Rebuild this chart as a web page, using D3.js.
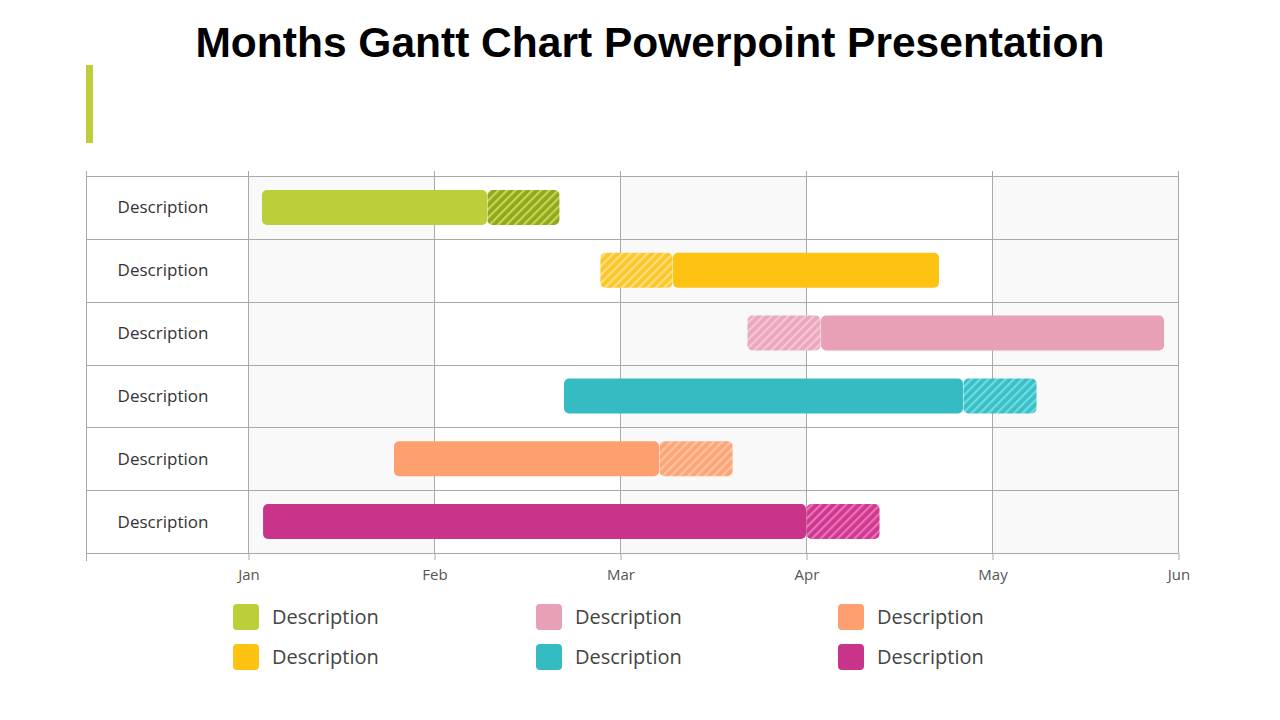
<!DOCTYPE html>
<html>
<head>
<meta charset="utf-8">
<script src="https://cdn.jsdelivr.net/npm/d3@7"></script>
<style>
  html, body { margin: 0; padding: 0; background: #fff; }
  svg { display: block; }
</style>
</head>
<body>
<svg id="chart" width="1280" height="720"></svg>
<script>
// ---- data ----
const months = ["Jan", "Feb", "Mar", "Apr", "May", "Jun"];
const tasks = ["Description", "Description", "Description", "Description", "Description", "Description"];
const colors = ["#bccf3a", "#fdc212", "#e8a0b7", "#35bcc2", "#fd9f6e", "#c73489"];
const stripeColors = ["#c4d848", "#fde07e", "#f6c6d6", "#72dbe0", "#fdc3a2", "#f070b9"];
const hatchBase = ["#93a624", "#fcc52a", "#eaa7bd", "#38c0c6", "#fda576", "#cc3a8f"];
// solid segment [start, end] and hatched segment [start, end], in months from Jan
const solidStart = [0.075, 2.285, 3.081, 1.699, 0.785, 0.081];
const solidEnd   = [1.285, 3.715, 4.925, 3.844, 2.210, 3.000];
const hatchStart = [1.285, 1.892, 2.683, 3.844, 2.210, 3.000];
const hatchEnd   = [1.677, 2.285, 3.081, 4.242, 2.608, 3.398];
const legendLabels = ["Description", "Description", "Description", "Description", "Description", "Description"];
const legendOrder = [0, 1, 2, 3, 4, 5]; // colour index per legend item (column-major)
const title = "Months Gantt Chart Powerpoint Presentation";

// ---- layout ----
const svg = d3.select("#chart");
const tableLeft = 86, chartLeft = 248, chartRight = 1178, gridTop = 176, gridBottom = 553;

const x = d3.scaleLinear().domain([0, months.length - 1]).range([chartLeft, chartRight]);
const y = d3.scaleBand().domain(d3.range(tasks.length)).range([gridTop, gridBottom]).padding(0);

// title
svg.append("text")
  .attr("x", 650).attr("y", 57)
  .attr("text-anchor", "middle")
  .attr("font-family", "'Liberation Sans', Arial, sans-serif")
  .attr("font-weight", "bold")
  .attr("font-size", 42.5)
  .attr("fill", "#000")
  .text(title);

// accent bar
svg.append("rect").attr("x", 86).attr("y", 65).attr("width", 7).attr("height", 78).attr("fill", "#bccf3a");

// patterns
const defs = svg.append("defs");
colors.forEach((c, i) => {
  const p = defs.append("pattern")
    .attr("id", "hatch" + i)
    .attr("patternUnits", "userSpaceOnUse")
    .attr("width", 6).attr("height", 6)
    .attr("patternTransform", "rotate(45)");
  p.append("rect").attr("width", 6).attr("height", 6).attr("fill", hatchBase[i]);
  p.append("rect").attr("x", 0).attr("width", 2.2).attr("height", 6).attr("fill", stripeColors[i]);
});

// alternating column shading
const g = svg.append("g");
d3.range(months.length - 1).forEach(m => {
  if (m % 2 === 0) {
    g.append("rect")
      .attr("x", x(m)).attr("y", gridTop)
      .attr("width", x(m + 1) - x(m)).attr("height", gridBottom - gridTop)
      .attr("fill", "#f9f9f9");
  }
});

// grid lines
const lineColor = "#a9a9a9";
d3.range(tasks.length + 1).forEach(i => {
  const yy = i < tasks.length ? y(i) : gridBottom;
  g.append("line")
    .attr("x1", tableLeft).attr("x2", chartRight)
    .attr("y1", Math.round(yy) + 0.5).attr("y2", Math.round(yy) + 0.5)
    .attr("stroke", lineColor).attr("stroke-width", 1);
});
// left border
g.append("line")
  .attr("x1", tableLeft + 0.5).attr("x2", tableLeft + 0.5)
  .attr("y1", 171).attr("y2", 561)
  .attr("stroke", lineColor);
// month verticals
months.forEach((m, i) => {
  g.append("line")
    .attr("x1", Math.round(x(i)) + 0.5).attr("x2", Math.round(x(i)) + 0.5)
    .attr("y1", 171).attr("y2", gridBottom)
    .attr("stroke", lineColor);
});

// axis
const axis = d3.axisBottom(x)
  .tickValues(d3.range(months.length))
  .tickFormat(i => months[i])
  .tickSize(7)
  .tickPadding(9);
const ag = svg.append("g").attr("transform", `translate(0.5,${gridBottom})`).call(axis);
ag.attr("font-size", null).attr("font-family", null);
ag.select(".domain").remove();
ag.selectAll(".tick line").attr("stroke", lineColor);
ag.selectAll(".tick text")
  .style("font-family", "'Open Sans', sans-serif")
  .style("font-size", "15px")
  .attr("fill", "#555");

// row labels
tasks.forEach((t, i) => {
  svg.append("text")
    .attr("x", 163).attr("y", y(i) + y.bandwidth() / 2 + 6)
    .attr("text-anchor", "middle")
    .attr("font-family", "'Open Sans', sans-serif")
    .attr("font-size", 17)
    .attr("fill", "#333")
    .text(t);
});

// bars
const barH = 35;
tasks.forEach((t, i) => {
  const by = y(i) + (y.bandwidth() - barH) / 2;
  svg.append("rect")
    .attr("x", x(solidStart[i])).attr("y", by)
    .attr("width", x(solidEnd[i]) - x(solidStart[i])).attr("height", barH)
    .attr("rx", 5).attr("ry", 5)
    .attr("fill", colors[i]);
  svg.append("rect")
    .attr("x", x(hatchStart[i]) + 0.5).attr("y", by)
    .attr("width", x(hatchEnd[i]) - x(hatchStart[i]) - 1).attr("height", barH)
    .attr("rx", 5).attr("ry", 5)
    .attr("fill", `url(#hatch${i})`);
});

// legend
const legX = [233, 536, 838], legY = [604, 644];
legendOrder.forEach((ci, k) => {
  const col = Math.floor(k / 2), row = k % 2;
  svg.append("rect")
    .attr("x", legX[col]).attr("y", legY[row])
    .attr("width", 26).attr("height", 26)
    .attr("rx", 4).attr("ry", 4)
    .attr("fill", colors[ci]);
  svg.append("text")
    .attr("x", legX[col] + 39).attr("y", legY[row] + 19.5)
    .attr("font-family", "'Open Sans', sans-serif")
    .attr("font-size", 20)
    .attr("fill", "#444")
    .text(legendLabels[ci]);
});
</script>
</body>
</html>
